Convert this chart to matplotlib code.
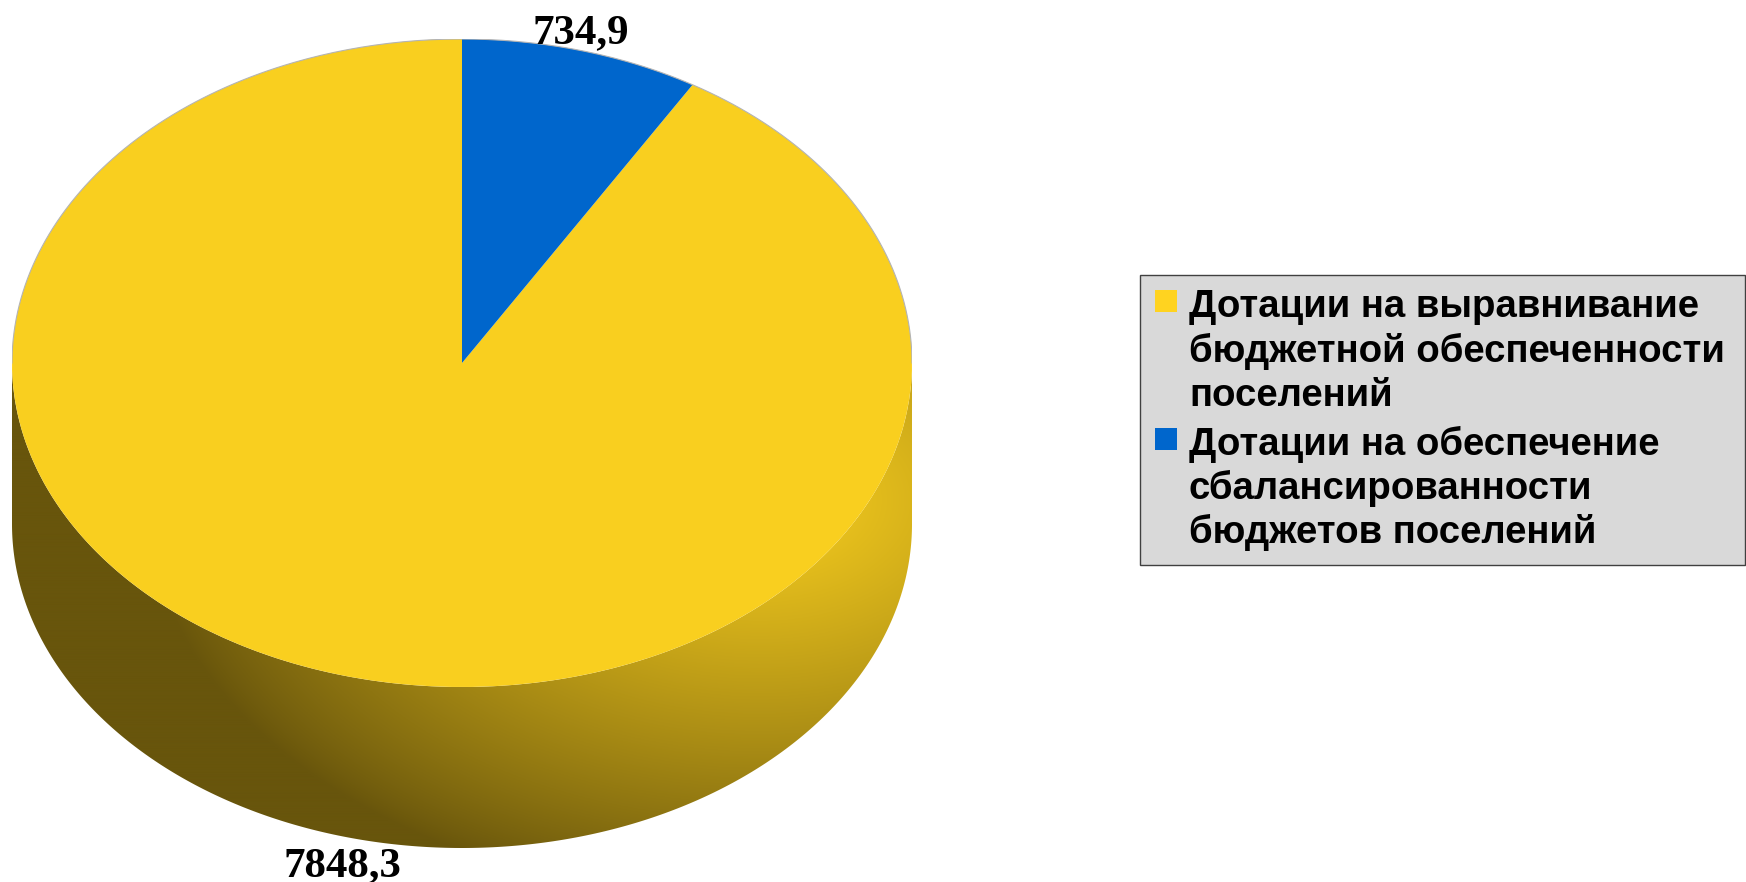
import matplotlib
matplotlib.use("Agg")
import matplotlib.pyplot as plt
from matplotlib.patches import Rectangle, Polygon
import numpy as np

labels = ["Дотации на выравнивание\nбюджетной обеспеченности\nпоселений",
          "Дотации на обеспечение\nсбалансированности\nбюджетов поселений"]
values = [7848.3, 734.9]
value_labels = ["7848,3", "734,9"]
colors = ["#f9cf1f", "#0066cc"]

W, H = 1746, 882
fig = plt.figure(figsize=(W / 100, H / 100), dpi=100, facecolor="white")

# overlay in pixels, for the legend and the value labels
px = fig.add_axes([0, 0, 1, 1], zorder=3)
px.set_xlim(0, W)
px.set_ylim(H, 0)
px.axis("off")

# pie axes covers the top ellipse plus the wall below it
cx, cy, rx, ry, depth = 462, 363, 450, 324, 161
left, top = cx - rx, cy - ry
height = 2 * ry + depth
ax = fig.add_axes([left / W, 1 - (top + height) / H, 2 * rx / W, height / H])

# wall with lighting
t = np.linspace(np.pi, 2 * np.pi, 300)
d = depth / ry
wall = np.vstack([np.c_[np.cos(t), np.sin(t) - d],
                  np.c_[np.cos(t[::-1]), np.sin(t[::-1])]])
xs = np.linspace(-1, 1, 900)
ys = np.linspace(-1 - d, 1, 500)
X, Y = np.meshgrid(xs, ys)
PX = cx + X * rx
PY = cy - Y * ry
dist = np.sqrt((PX - 760) ** 2 + ((PY - 500) / 0.657) ** 2)
k = np.clip(1 - dist / 613, 0, 1) ** 0.85
dark = np.array([0x68, 0x55, 0x0c]) / 255
light = np.array([0xf9, 0xcf, 0x1f]) / 255
img = dark + (light - dark) * k[..., None]
im = ax.imshow(img, extent=[-1, 1, -1 - d, 1], origin="lower", aspect="auto", zorder=0)
clip = Polygon(wall, closed=True, transform=ax.transData, fc="none", ec="none")
ax.add_patch(clip)
im.set_clip_path(clip)

start = 90 - 360 * values[1] / sum(values)
ax.pie(values, colors=colors, startangle=start, counterclock=False,
       wedgeprops={"linewidth": 0})
for w in ax.patches:
    w.set_zorder(2)
# thin grey rim along the back of the top face
t = np.linspace(0, np.pi, 300)
ax.plot(np.cos(t), np.sin(t), color="#b4b4b4", lw=0.8, zorder=3)
ax.set_aspect("auto")
ax.set_xlim(-1, 1)
ax.set_ylim(-1 - d, 1)
ax.axis("off")

# value labels
serif = {"family": "Liberation Serif", "weight": "bold", "size": 31, "color": "black"}
px.text(342, 876, value_labels[0], ha="center", va="baseline", **serif)
px.text(581, 43, value_labels[1], ha="center", va="baseline", **serif)

# legend
px.add_patch(Rectangle((1140, 275), 605, 290, fc="#d9d9d9", ec="#404040", lw=1))
sans = {"family": "Liberation Sans", "weight": "bold", "size": 27.6, "color": "black"}
baselines = [[317, 362, 406], [455, 499, 543]]
swatch_top = [290, 428]
for i, label in enumerate(labels):
    px.add_patch(Rectangle((1155, swatch_top[i]), 22, 22, fc=["#ffd320", "#0066cc"][i], ec="none"))
    for line, y in zip(label.split("\n"), baselines[i]):
        px.text(1189, y, line, ha="left", va="baseline", **sans)

fig.savefig("out.png", dpi=100, facecolor="white")
